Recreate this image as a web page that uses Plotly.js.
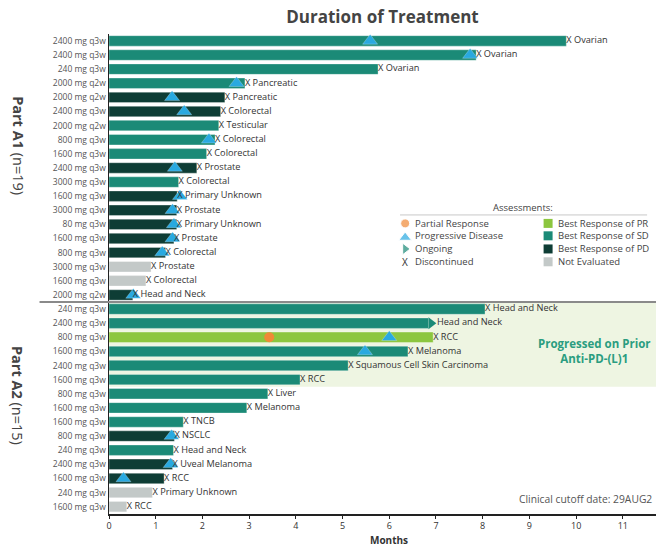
<!DOCTYPE html>
<html>
<head>
<meta charset="utf-8">
<script src="https://cdn.plot.ly/plotly-3.0.1.min.js"></script>
<style>html,body{margin:0;padding:0;background:#fff;}#chart{width:656px;height:548px;}</style>
</head>
<body>
<div id="chart"></div>
<script>
// ---------- data ----------
const doses = [
  "2400 mg q3w","2400 mg q3w","240 mg q3w","2000 mg q2w","2000 mg q2w","2400 mg q3w","2000 mg q2w","800 mg q3w","1600 mg q3w","2400 mg q3w",
  "3000 mg q3w","1600 mg q3w","3000 mg q3w","80 mg q3w","1600 mg q3w","800 mg q3w","3000 mg q3w","1600 mg q3w","2000 mg q2w",
  "240 mg q3w","2400 mg q3w","800 mg q3w","1600 mg q3w","2400 mg q3w","1600 mg q3w","800 mg q3w","1600 mg q3w","1600 mg q3w","800 mg q3w",
  "240 mg q3w","2400 mg q3w","1600 mg q3w","240 mg q3w","1600 mg q3w"
];
const durations = [
  9.79, 7.86, 5.76, 2.91, 2.48, 2.39, 2.35, 2.27, 2.09, 1.88,
  1.49, 1.46, 1.45, 1.45, 1.39, 1.21, 0.90, 0.79, 0.51,
  8.05, 6.84, 6.94, 6.40, 5.12, 4.09, 3.40, 2.95, 1.59, 1.40,
  1.38, 1.36, 1.18, 0.93, 0.38
];
const bestResponse = [
  "SD","SD","SD","SD","PD","PD","SD","SD","SD","PD",
  "SD","PD","PD","PD","PD","PD","NE","NE","PD",
  "SD","SD","PR","SD","SD","SD","SD","SD","SD","PD",
  "SD","PD","PD","NE","NE"
];
const tumors = [
  "Ovarian","Ovarian","Ovarian","Pancreatic","Pancreatic","Colorectal","Testicular","Colorectal","Colorectal","Prostate",
  "Colorectal","Primary Unknown","Prostate","Primary Unknown","Prostate","Colorectal","Prostate","Colorectal","Head and Neck",
  "Head and Neck","Head and Neck","RCC","Melanoma","Squamous Cell Skin Carcinoma","RCC","Liver","Melanoma","TNCB","NSCLC",
  "Head and Neck","Uveal Melanoma","RCC","Primary Unknown","RCC"
];
const ongoing = [
  false,false,false,false,false,false,false,false,false,false,
  false,false,false,false,false,false,false,false,false,
  false,true,false,false,false,false,false,false,false,false,
  false,false,false,false,false
];
const pdTimes = [
  5.59, 7.73, null, 2.73, 1.35, 1.61, null, 2.14, null, 1.41,
  null, 1.52, 1.36, 1.39, 1.36, 1.14, null, null, 0.52,
  null, null, 6.00, 5.48, null, null, null, null, null, 1.34,
  null, 1.32, 0.31, null, null
];
const prTimes = [
  null,null,null,null,null,null,null,null,null,null,
  null,null,null,null,null,null,null,null,null,
  null,null,3.43,null,null,null,null,null,null,null,
  null,null,null,null,null
];
const xTicks = [0,1,2,3,4,5,6,7,8,9,10,11];
const parts = [
  {name: "Part A1", n: 19, first: 0, last: 18, labelRow: 7.4},
  {name: "Part A2", n: 15, first: 19, last: 33, labelRow: 25.1}
];
const priorGroup = {first: 19, last: 24, text: "Progressed on Prior<br>Anti-PD-(L)1"};

// ---------- styles ----------
const colors = {PR: "#8cc63f", SD: "#1b8a77", PD: "#0e3d35", NE: "#c3c9c8"};
const triColor = "#29a9e0";
const circColor = "#f08a36";
const FONT = "Open Sans, Noto Sans, sans-serif";

const rows = doses.map((d, i) => i);
const pxPerMonth = 46.7;
const arrowShift = 2.6 / pxPerMonth;
const arrowLen = 8.4 / pxPerMonth;

const traces = [];
// bars
traces.push({
  type: "bar", orientation: "h",
  x: durations, y: rows, width: 0.74,
  marker: {color: bestResponse.map(r => colors[r]), line: {color: "rgba(255,255,255,0.55)", width: 0.6}},
  hoverinfo: "skip", showlegend: false
});
// ongoing arrows
const ongX = [], ongY = [];
rows.forEach(i => { if (ongoing[i]) { ongX.push(durations[i] + arrowShift); ongY.push(i); } });
traces.push({
  type: "scatter", mode: "markers", x: ongX, y: ongY,
  marker: {symbol: "triangle-right", size: 10.5, color: colors.SD, line: {width: 0}},
  hoverinfo: "skip", showlegend: false, cliponaxis: false
});
// PD triangles
const pdX = [], pdY = [];
rows.forEach(i => { if (pdTimes[i] !== null) { pdX.push(pdTimes[i]); pdY.push(i); } });
traces.push({
  type: "scatter", mode: "markers", x: pdX, y: pdY,
  marker: {symbol: "triangle-up", size: 13, color: triColor, line: {color: "rgba(255,255,255,0.5)", width: 0.5}},
  hoverinfo: "skip", showlegend: false, cliponaxis: false
});
// PR circles
const prX = [], prY = [];
rows.forEach(i => { if (prTimes[i] !== null) { prX.push(prTimes[i]); prY.push(i); } });
traces.push({
  type: "scatter", mode: "markers", x: prX, y: prY,
  marker: {symbol: "circle", size: 10, color: circColor},
  hoverinfo: "skip", showlegend: false
});
// bar end labels
traces.push({
  type: "scatter", mode: "text",
  x: rows.map(i => durations[i] + (ongoing[i] ? arrowLen : 0)),
  y: rows,
  text: rows.map(i => (ongoing[i] ? "" : "X ") + tumors[i]),
  textposition: "middle right",
  textfont: {family: FONT, size: 9.2, color: "#333"},
  hoverinfo: "skip", showlegend: false, cliponaxis: false
});

// ---------- legend (drawn inside the plot) ----------
const legL = 6.34, legLT = 6.51, legR = 9.40, legRT = 9.57;
const legRows = [12.93, 13.81, 14.74, 15.65];
traces.push({
  type: "scatter", mode: "markers",
  x: [legL, legL, legL], y: [legRows[0], legRows[1] + 0.12, legRows[2]],
  marker: {symbol: ["circle", "triangle-up", "triangle-right"], size: [9, 11, 10], color: [circColor, triColor, colors.SD]},
  hoverinfo: "skip", showlegend: false
});
traces.push({
  type: "scatter", mode: "markers",
  x: [legR, legR, legR, legR], y: legRows,
  marker: {symbol: "square", size: 9, color: [colors.PR, colors.SD, colors.PD, colors.NE]},
  hoverinfo: "skip", showlegend: false
});

const legFont = {family: FONT, size: 9.5, color: "#444"};
const annotations = [];
const leftLabels = ["Partial Response", "Progressive Disease", "Ongoing", "Discontinued"];
const rightLabels = ["Best Response of PR", "Best Response of SD", "Best Response of PD", "Not Evaluated"];
leftLabels.forEach((t, k) => annotations.push({x: legLT, y: legRows[k], xref: "x", yref: "y", text: t, showarrow: false, xanchor: "left", yanchor: "middle", font: legFont}));
rightLabels.forEach((t, k) => annotations.push({x: legRT, y: legRows[k], xref: "x", yref: "y", text: t, showarrow: false, xanchor: "left", yanchor: "middle", font: legFont}));
annotations.push({x: legL, y: legRows[3], xref: "x", yref: "y", text: "X", showarrow: false, xanchor: "center", yanchor: "middle", font: {family: FONT, size: 10, color: "#333"}});
annotations.push({x: 8.87, y: 11.77, xref: "x", yref: "y", text: "Assessments:", showarrow: false, xanchor: "center", yanchor: "middle", font: legFont});

// part labels
parts.forEach(p => {
  annotations.push({
    x: -0.166, xref: "paper", y: p.labelRow, yref: "y",
    text: "<b>" + p.name + "</b> (n=" + p.n + ")", textangle: 90, showarrow: false,
    xanchor: "center", yanchor: "middle", font: {family: FONT, size: 14.5, color: "#444"}
  });
});
// prior group note
annotations.push({
  x: 0.888, xref: "paper", y: 22.0, yref: "y", text: "<b>" + priorGroup.text + "</b>", showarrow: false,
  xanchor: "center", yanchor: "middle", align: "center", font: {family: FONT, size: 11.5, color: "#2a9d80"}
});
// cutoff
annotations.push({
  x: 0.745, xref: "paper", y: 32.45, yref: "y", text: "Clinical cutoff date: 29AUG2", showarrow: false,
  xanchor: "left", yanchor: "middle", font: {family: FONT, size: 10.3, color: "#555"}
});

const MB = 34;
const plotH = 548 - 34 - MB;
// axis title at the very bottom of the figure
annotations.push({
  x: 6, xref: "x", y: -(MB - 0.5) / plotH, yref: "paper", text: "<b>Months</b>", showarrow: false,
  xanchor: "center", yanchor: "bottom", borderpad: 0, font: {family: FONT, size: 10, color: "#333"}
});

const shapes = [
  {type: "rect", xref: "paper", x0: 0, x1: 1, yref: "y", y0: priorGroup.first - 0.5, y1: priorGroup.last + 0.5,
   fillcolor: "#eef5e2", line: {width: 0}, layer: "below"},
  {type: "line", xref: "paper", x0: -0.127, x1: 1, yref: "y", y0: parts[0].last + 0.5, y1: parts[0].last + 0.5,
   line: {color: "#8a8a8a", width: 2}},
  {type: "line", xref: "x", x0: 6.23, x1: 11.52, yref: "y", y0: 12.33, y1: 12.33,
   line: {color: "#c8c8c8", width: 1}}
];

const layout = {
  width: 656, height: 548,
  margin: {l: 109, r: 0, t: 34, b: MB, pad: 0},
  paper_bgcolor: "#fff", plot_bgcolor: "rgba(0,0,0,0)",
  font: {family: FONT, color: "#333"},
  title: {text: "<b>Duration of Treatment</b>", x: 0.5, xref: "paper", xanchor: "center", y: 0.969, yref: "container", yanchor: "middle",
          font: {family: FONT, size: 17, color: "#444"}},
  showlegend: false,
  bargap: 0,
  xaxis: {range: [0, 11.71], tickvals: xTicks, ticktext: xTicks.map(String), showline: true, linecolor: "#222", linewidth: 1.5,
          ticks: "outside", ticklen: 3, tickcolor: "#222", tickfont: {family: FONT, size: 9, color: "#333"},
          showgrid: false, zeroline: false, fixedrange: true},
  yaxis: {range: [33.52, -0.49], tickvals: rows, ticktext: doses, showline: true, linecolor: "#222", linewidth: 1.5,
          ticks: "", tickfont: {family: FONT, size: 8.5, color: "#555"}, showgrid: false, zeroline: false, fixedrange: true},
  shapes: shapes,
  annotations: annotations
};

Plotly.newPlot("chart", traces, layout, {displayModeBar: false, staticPlot: true});
</script>
</body>
</html>
